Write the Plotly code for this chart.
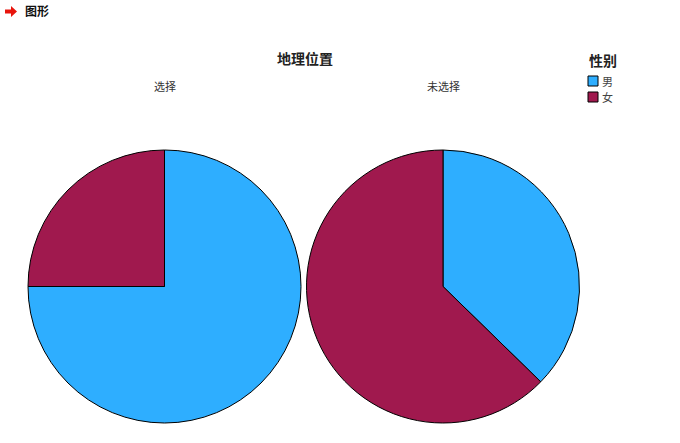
import plotly.graph_objects as go

categories = ["男", "女"]
selected_values = [75.0, 25.0]
unselected_values = [37.3, 62.7]
panel_titles = ["选择", "未选择"]
colors = ["#2EAEFF", "#A0194E"]

W, H = 680, 443
FONT = "Noto Sans CJK SC"


def px(x):
    return x / W


def py(y):
    return 1 - y / H


fig = go.Figure()
domains = [
    dict(x=[px(28), px(301)], y=[py(423), py(150)]),
    dict(x=[px(306), px(580)], y=[py(423), py(150)]),
]
for i, vals in enumerate([selected_values, unselected_values]):
    fig.add_trace(go.Pie(
        labels=categories, values=vals, domain=domains[i],
        sort=False, direction="clockwise", rotation=0,
        marker=dict(colors=colors, line=dict(color="#000000", width=1)),
        textinfo="none", hoverinfo="label+percent",
        showlegend=False,
    ))

annotations = [
    dict(text="<b>图形</b>", x=px(23), y=py(11), xanchor="left", yanchor="middle",
         font=dict(size=12, color="#111111", family=FONT)),
    dict(text="<b>地理位置</b>", x=px(305), y=py(58), xanchor="center", yanchor="middle",
         font=dict(size=14, color="#222222", family=FONT)),
    dict(text=panel_titles[0], x=px(165), y=py(86), xanchor="center", yanchor="middle",
         font=dict(size=11, color="#333333", family=FONT)),
    dict(text=panel_titles[1], x=px(443), y=py(86), xanchor="center", yanchor="middle",
         font=dict(size=11, color="#333333", family=FONT)),
    dict(text="<b>性别</b>", x=px(587), y=py(60), xanchor="left", yanchor="middle",
         font=dict(size=14, color="#222222", family=FONT)),
]
shapes = []
# manual legend
for k, (lab, col) in enumerate(zip(categories, colors)):
    y0, y1 = 76 + 16 * k, 86 + 16 * k
    shapes.append(dict(type="rect", xref="paper", yref="paper",
                       x0=px(588), x1=px(598), y0=py(y1), y1=py(y0),
                       fillcolor=col, line=dict(color="#000000", width=1)))
    annotations.append(dict(text=lab, x=px(600), y=py((y0 + y1) / 2), xanchor="left",
                            yanchor="middle",
                            font=dict(size=11, color="#444444", family=FONT)))
for a in annotations:
    a.update(xref="paper", yref="paper", showarrow=False)

# red arrow icon
pts = [(5, 9.5), (11, 9.5), (11, 6), (17, 11.5), (11, 17), (11, 13.5), (5, 13.5)]
path = "M " + " L ".join(f"{px(x)},{py(y)}" for x, y in pts) + " Z"
shapes.append(dict(type="path", xref="paper", yref="paper", path=path,
                   fillcolor="#E8140C", line=dict(width=0)))

fig.update_layout(
    width=W, height=H,
    margin=dict(l=0, r=0, t=0, b=0),
    paper_bgcolor="white", plot_bgcolor="white",
    annotations=annotations,
    shapes=shapes,
    showlegend=False,
)

fig.write_html("out.html", config={"displayModeBar": False},
               post_script="document.body.style.margin='0';")
